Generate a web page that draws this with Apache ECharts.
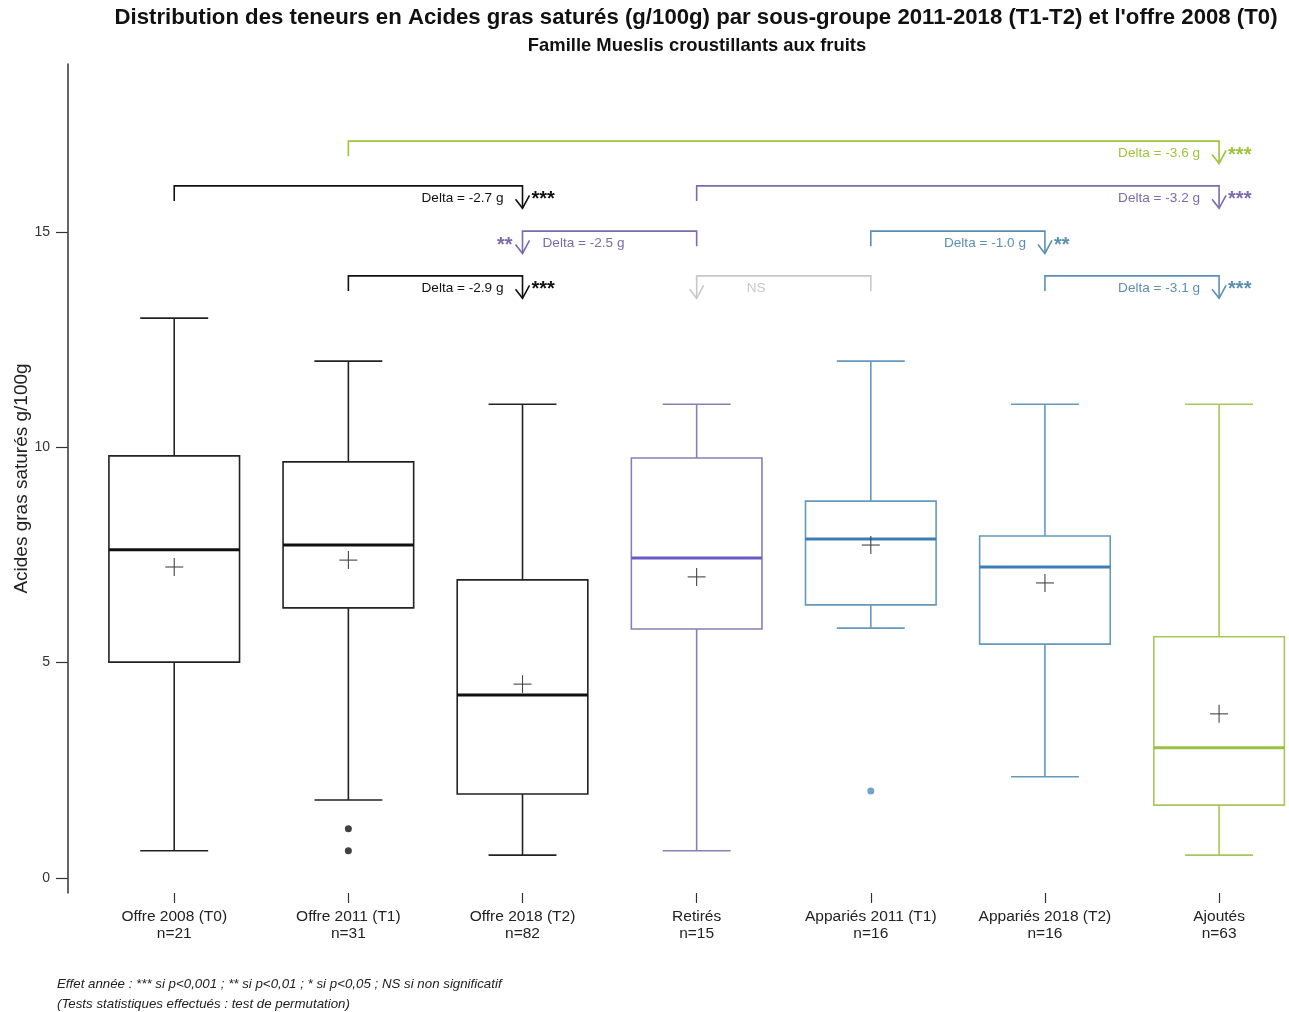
<!DOCTYPE html>
<html><head><meta charset="utf-8">
<script src="https://cdn.jsdelivr.net/npm/echarts@6/dist/echarts.min.js"></script>
<style>html,body{margin:0;padding:0;background:#fff}#c{width:1289px;height:1012px}</style>
</head><body><div id="c"></div>
<script>
const categories = ['Offre 2008 (T0)', 'Offre 2011 (T1)', 'Offre 2018 (T2)', 'Retirés', 'Appariés 2011 (T1)', 'Appariés 2018 (T2)', 'Ajoutés'];
const counts = [21, 31, 82, 15, 16, 16, 63];
const whiskerLow = [0.63, 1.81, 0.53, 0.63, 5.80, 2.35, 0.53];
const q1 = [5.01, 6.27, 1.95, 5.78, 6.34, 5.43, 1.69];
const median = [7.62, 7.73, 4.25, 7.43, 7.87, 7.22, 3.02];
const q3 = [9.80, 9.66, 6.92, 9.75, 8.75, 7.94, 5.60];
const whiskerHigh = [13.0, 12.0, 11.0, 11.0, 12.0, 11.0, 11.0];
const means = [7.22, 7.38, 4.50, 6.99, 7.73, 6.85, 3.81];
const outlierGroup = [2, 2, 5];
const outlierValue = [1.14, 0.63, 2.02];
const yTicks = [0, 5, 10, 15];

// comparison brackets
const bracketFrom = [2, 1, 4, 4, 5, 2, 5, 6];
const bracketArrow = [7, 3, 7, 3, 6, 3, 4, 7];
const bracketLevel = [17.11, 16.07, 16.07, 15.02, 15.02, 13.98, 13.98, 13.98];
const bracketLabel = ['Delta = -3.6 g', 'Delta = -2.7 g', 'Delta = -3.2 g', 'Delta = -2.5 g', 'Delta = -1.0 g', 'Delta = -2.9 g', 'NS', 'Delta = -3.1 g'];
const bracketStars = ['***', '***', '***', '**', '**', '***', '', '***'];
const bracketColor = ['#9DC33B', '#111111', '#7B6BAE', '#7B6BAE', '#5A8FB3', '#111111', '#C8C8C8', '#5A8FB3'];

const boxStroke = ['#222', '#222', '#222', '#8A7FB5', '#6499BB', '#6499BB', '#A6C75A'];
const medianStroke = ['#111', '#111', '#111', '#6A5BC2', '#3C7DB6', '#3C7DB6', '#99C244'];
const outlierColor = ['#111', '#111', '#4A8EB8'];

const FONT = '"Liberation Sans", Arial, sans-serif';

const boxData = categories.map((c, i) => [i + 1, whiskerLow[i], q1[i], median[i], q3[i], whiskerHigh[i]]);
const meanData = means.map((m, i) => [i + 1, m]);
const outlierData = outlierGroup.map((g, i) => ({ value: [g, outlierValue[i]], itemStyle: { color: outlierColor[i] } }));
const bracketData = bracketLevel.map((l, i) => [bracketArrow[i], l, bracketFrom[i]]);

const chart = echarts.init(document.getElementById('c'), null, { renderer: 'canvas' });

chart.setOption({
  animation: false,
  backgroundColor: '#fff',
  grid: { left: 68, right: 2, top: 64, bottom: 119, containLabel: false, outerBoundsMode: 'none' },
  xAxis: {
    type: 'value', min: 0.39, max: 7.39,
    axisLine: { show: false, onZero: false },
    splitLine: { show: false },
    axisTick: { show: true, inside: false, customValues: [1, 2, 3, 4, 5, 6, 7], length: 10, lineStyle: { color: '#333', width: 1.2 } },
    axisLabel: {
      customValues: [1, 2, 3, 4, 5, 6, 7],
      formatter: v => categories[Math.round(v) - 1] + '\nn=' + counts[Math.round(v) - 1],
      fontSize: 15.5, lineHeight: 17, color: '#222', margin: 15, fontFamily: FONT
    }
  },
  yAxis: {
    type: 'value', min: -0.35, max: 18.9,
    name: 'Acides gras saturés g/100g', nameLocation: 'middle', nameGap: 37, nameMoveOverlap: false,
    nameTextStyle: { fontSize: 19, color: '#222', fontFamily: FONT },
    axisLine: { show: true, onZero: false, lineStyle: { color: '#333', width: 1.5 } },
    axisTick: { show: true, customValues: yTicks, length: 12, lineStyle: { color: '#333', width: 1.2 } },
    axisLabel: { customValues: yTicks, fontSize: 14, color: '#333', margin: 18, fontFamily: FONT },
    splitLine: { show: false }
  },
  graphic: [
    { type: 'text', x: 696, y: 18, style: { text: "Distribution des teneurs en Acides gras saturés (g/100g) par sous-groupe 2011-2018 (T1-T2) et l'offre 2008 (T0)", font: 'bold 22.2px ' + FONT, fill: '#111', textAlign: 'center', textVerticalAlign: 'middle' } },
    { type: 'text', x: 697, y: 46, style: { text: 'Famille Mueslis croustillants aux fruits', font: 'bold 18.4px ' + FONT, fill: '#111', textAlign: 'center', textVerticalAlign: 'middle' } },
    { type: 'text', x: 57, y: 984, style: { text: 'Effet année : *** si p<0,001 ; ** si p<0,01 ; * si p<0,05 ; NS si non significatif', font: 'italic 13.3px ' + FONT, fill: '#222', textVerticalAlign: 'middle' } },
    { type: 'text', x: 57, y: 1004, style: { text: '(Tests statistiques effectués : test de permutation)', font: 'italic 13.3px ' + FONT, fill: '#222', textVerticalAlign: 'middle' } }
  ],
  series: [
    {
      type: 'custom', name: 'box', clip: false,
      data: boxData,
      renderItem: function (params, api) {
        const i = params.dataIndex;
        const x = api.value(0);
        const pLow = api.coord([x, api.value(1)]);
        const pQ1 = api.coord([x, api.value(2)]);
        const pMed = api.coord([x, api.value(3)]);
        const pQ3 = api.coord([x, api.value(4)]);
        const pHigh = api.coord([x, api.value(5)]);
        const halfBox = (api.coord([x + 0.375, 0])[0] - api.coord([x, 0])[0]);
        const halfCap = (api.coord([x + 0.195, 0])[0] - api.coord([x, 0])[0]);
        const cx = pLow[0];
        const st = { stroke: boxStroke[i], lineWidth: 1.6, fill: null };
        return {
          type: 'group',
          children: [
            { type: 'line', shape: { x1: cx, y1: pQ3[1], x2: cx, y2: pHigh[1] }, style: st },
            { type: 'line', shape: { x1: cx, y1: pQ1[1], x2: cx, y2: pLow[1] }, style: st },
            { type: 'line', shape: { x1: cx - halfCap, y1: pHigh[1], x2: cx + halfCap, y2: pHigh[1] }, style: st },
            { type: 'line', shape: { x1: cx - halfCap, y1: pLow[1], x2: cx + halfCap, y2: pLow[1] }, style: st },
            { type: 'rect', shape: { x: cx - halfBox, y: pQ3[1], width: halfBox * 2, height: pQ1[1] - pQ3[1] }, style: { stroke: boxStroke[i], lineWidth: 1.6, fill: 'rgba(255,255,255,0)' } },
            { type: 'line', shape: { x1: cx - halfBox, y1: pMed[1], x2: cx + halfBox, y2: pMed[1] }, style: { stroke: medianStroke[i], lineWidth: 3 } }
          ]
        };
      }
    },
    {
      type: 'custom', name: 'mean', clip: false,
      data: meanData,
      renderItem: function (params, api) {
        const p = api.coord([api.value(0), api.value(1)]);
        const s = { stroke: '#444', lineWidth: 1.1 };
        return {
          type: 'group', children: [
            { type: 'line', shape: { x1: p[0] - 9, y1: p[1], x2: p[0] + 9, y2: p[1] }, style: s },
            { type: 'line', shape: { x1: p[0], y1: p[1] - 9, x2: p[0], y2: p[1] + 9 }, style: s }
          ]
        };
      }
    },
    {
      type: 'scatter', name: 'outliers', data: outlierData, symbol: 'circle', symbolSize: 7
    },
    {
      type: 'custom', name: 'brackets', clip: false,
      data: bracketData,
      renderItem: function (params, api) {
        const i = params.dataIndex;
        const level = api.value(1);
        const pA = api.coord([api.value(0), level]);
        const pF = api.coord([api.value(2), level]);
        const col = bracketColor[i];
        const tickEnd = api.coord([api.value(2), level - 0.35])[1];
        const stemEnd = api.coord([api.value(0), level - 0.52])[1];
        const st = { stroke: col, lineWidth: 1.6, fill: null };
        const ax = pA[0], ay = pA[1];
        const right = pA[0] > pF[0];
        const children = [
          { type: 'polyline', shape: { points: [[pF[0], tickEnd], [pF[0], ay], [ax, ay], [ax, stemEnd]] }, style: st },
          { type: 'polyline', shape: { points: [[ax - 7, stemEnd - 9], [ax, stemEnd], [ax + 7, stemEnd - 13]] }, style: st }
        ];
        const ty = ay + 12;
        if (right) {
          children.push({ type: 'text', x: ax - 19, y: ty, style: { text: bracketLabel[i], font: '13.6px ' + FONT, fill: col, textAlign: 'right', textVerticalAlign: 'middle' } });
          if (bracketStars[i]) children.push({ type: 'text', x: ax + 9, y: ty + 2, style: { text: bracketStars[i], font: 'bold 20px ' + FONT, fill: col, textAlign: 'left', textVerticalAlign: 'middle' } });
        } else {
          const off = bracketStars[i] ? 20 : 50;
          children.push({ type: 'text', x: ax + off, y: ty, style: { text: bracketLabel[i], font: '13.6px ' + FONT, fill: col, textAlign: 'left', textVerticalAlign: 'middle' } });
          if (bracketStars[i]) children.push({ type: 'text', x: ax - 10, y: ty + 2, style: { text: bracketStars[i], font: 'bold 20px ' + FONT, fill: col, textAlign: 'right', textVerticalAlign: 'middle' } });
        }
        return { type: 'group', children: children };
      }
    }
  ]
});
</script></body></html>
